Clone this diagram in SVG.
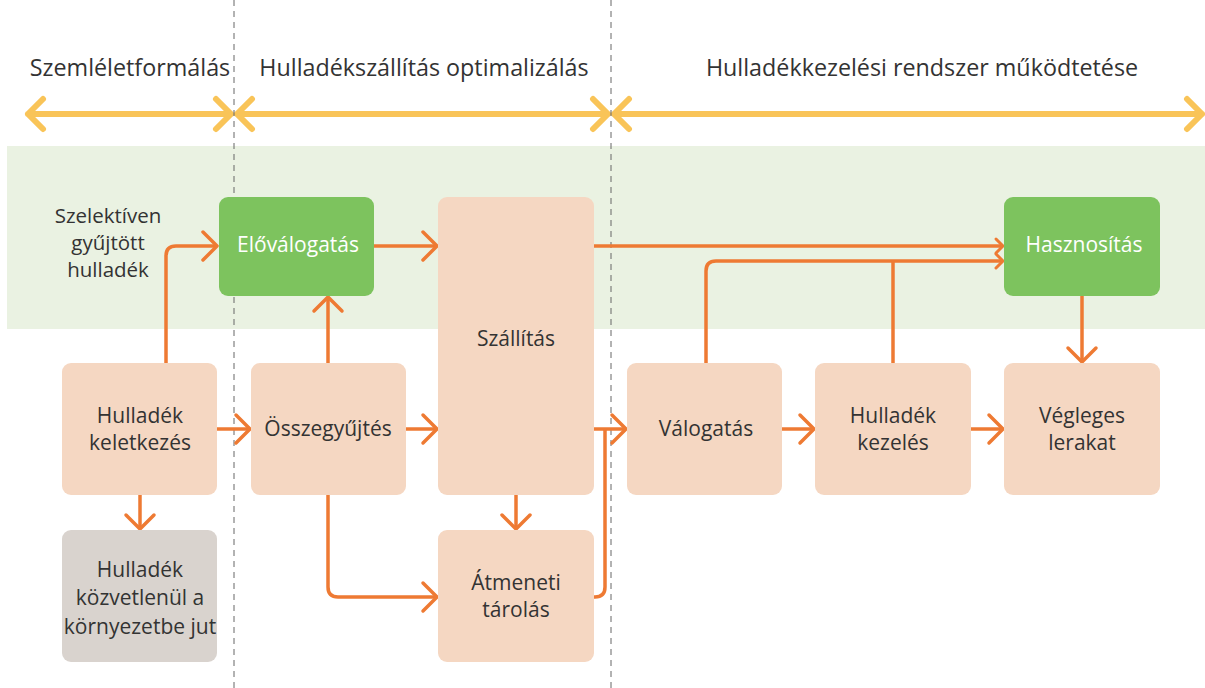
<svg xmlns="http://www.w3.org/2000/svg" width="1205" height="688" viewBox="0 0 1205 688">
<defs>
<style>
text{font-family:"Open Sans","Noto Sans","Liberation Sans",sans-serif;text-anchor:middle}
.title{font-size:23.3px;fill:#333}
.lbl{font-size:21px;fill:#333}
.side{font-size:20.5px;fill:#333}
.wl{font-size:21px;fill:#fff}
.peach{fill:#F5D7C2}
.green{fill:#7DC35E}
.gray{fill:#D9D3CE}
.con{fill:none;stroke:#EE7A33;stroke-width:3.5;stroke-linecap:butt;stroke-linejoin:round}
.yel{fill:none;stroke:#F9C458;stroke-width:6;stroke-linecap:round;stroke-linejoin:round}
.dash{stroke:#666;stroke-width:1;stroke-dasharray:6 5}
</style>
<marker id="ah" markerUnits="userSpaceOnUse" markerWidth="34" markerHeight="34" viewBox="-17 -17 34 34" refX="0" refY="0" orient="auto" overflow="visible">
<path d="M-14,-14 L0,0 L-14,14" fill="none" stroke="#EE7A33" stroke-width="3.5" stroke-linecap="round" stroke-linejoin="round"/>
</marker>
<marker id="ahs" markerUnits="userSpaceOnUse" markerWidth="20" markerHeight="20" viewBox="-10 -10 20 20" refX="0" refY="0" orient="auto" overflow="visible">
<path d="M-7,-7 L0,0 L-7,7" fill="none" stroke="#EE7A33" stroke-width="3" stroke-linecap="round" stroke-linejoin="round"/>
</marker>
</defs>
<rect width="1205" height="688" fill="#fff"/>
<rect x="7" y="146" width="1198" height="183" fill="#EAF2E2"/>
<g id="phases">
<text class="title" x="130" y="76">Szemléletformálás</text>
<text class="title" x="424" y="76">Hulladékszállítás optimalizálás</text>
<text class="title" x="922" y="76">Hulladékkezelési rendszer működtetése</text>
<path class="yel" d="M28,114 H231 M43,99 L28,114 L43,129 M216,99 L231,114 L216,129"/>
<path class="yel" d="M237,114 H608 M252,99 L237,114 L252,129 M593,99 L608,114 L593,129"/>
<path class="yel" d="M614,114 H1202 M629,99 L614,114 L629,129 M1187,99 L1202,114 L1187,129"/>
</g>
<g id="dividers">
<line class="dash" x1="234" y1="0" x2="234" y2="688"/>
<line class="dash" x1="611" y1="0" x2="611" y2="688"/>
</g>
<g id="label-szelektiv">
<text class="side" x="108" y="223">Szelektíven</text>
<text class="side" x="108" y="250">gyűjtött</text>
<text class="side" x="108" y="277">hulladék</text>
</g>
<g id="connectors">
<path class="con" d="M166,363 V256 Q166,246 176,246 H217" marker-end="url(#ah)"/>
<path class="con" d="M374,246 H437" marker-end="url(#ah)"/>
<path class="con" d="M328,363 V297" marker-end="url(#ah)"/>
<path class="con" d="M217,429 H250" marker-end="url(#ah)"/>
<path class="con" d="M406,429 H437" marker-end="url(#ah)"/>
<path class="con" d="M328,495 V587 Q328,597 338,597 H437" marker-end="url(#ah)"/>
<path class="con" d="M516,495 V529" marker-end="url(#ah)"/>
<path class="con" d="M594,429 H626" marker-end="url(#ah)"/>
<path class="con" d="M594,597 H595 Q605,597 605,587 V429"/>
<path class="con" d="M594,246 H1003" marker-end="url(#ahs)"/>
<path class="con" d="M706,363 V271 Q706,261 716,261 H1003" marker-end="url(#ahs)"/>
<path class="con" d="M893,363 V261"/>
<path class="con" d="M1082,296 V362" marker-end="url(#ah)"/>
<path class="con" d="M782,429 H814" marker-end="url(#ah)"/>
<path class="con" d="M971,429 H1003" marker-end="url(#ah)"/>
<path class="con" d="M140,495 V529" marker-end="url(#ah)"/>
</g>
<g id="elovalogatas">
<rect class="green" x="219" y="197" width="155" height="99" rx="9"/>
<text class="wl" x="298" y="252">Előválogatás</text>
</g>
<g id="szallitas">
<rect class="peach" x="438" y="197" width="156" height="298" rx="9"/>
<text class="lbl" x="516" y="346">Szállítás</text>
</g>
<g id="hasznositas">
<rect class="green" x="1004" y="197" width="156" height="99" rx="9"/>
<text class="wl" x="1084" y="252">Hasznosítás</text>
</g>
<g id="keletkezes">
<rect class="peach" x="62" y="363" width="155" height="132" rx="9"/>
<text class="lbl" x="140" y="423">Hulladék</text>
<text class="lbl" x="140" y="450">keletkezés</text>
</g>
<g id="osszegyujtes">
<rect class="peach" x="251" y="363" width="155" height="132" rx="9"/>
<text class="lbl" x="328" y="436">Összegyűjtés</text>
</g>
<g id="valogatas">
<rect class="peach" x="627" y="363" width="155" height="132" rx="9"/>
<text class="lbl" x="706" y="436">Válogatás</text>
</g>
<g id="kezeles">
<rect class="peach" x="815" y="363" width="156" height="132" rx="9"/>
<text class="lbl" x="893" y="423">Hulladék</text>
<text class="lbl" x="893" y="450">kezelés</text>
</g>
<g id="vegleges">
<rect class="peach" x="1004" y="363" width="156" height="132" rx="9"/>
<text class="lbl" x="1082" y="423">Végleges</text>
<text class="lbl" x="1082" y="450">lerakat</text>
</g>
<g id="kornyezet">
<rect class="gray" x="62" y="530" width="155" height="132" rx="9"/>
<text class="lbl" x="140" y="577">Hulladék</text>
<text class="lbl" x="140" y="605">közvetlenül a</text>
<text class="lbl" x="140" y="634">környezetbe jut</text>
</g>
<g id="atmeneti">
<rect class="peach" x="438" y="530" width="156" height="132" rx="9"/>
<text class="lbl" x="516" y="590">Átmeneti</text>
<text class="lbl" x="516" y="617">tárolás</text>
</g>
</svg>
